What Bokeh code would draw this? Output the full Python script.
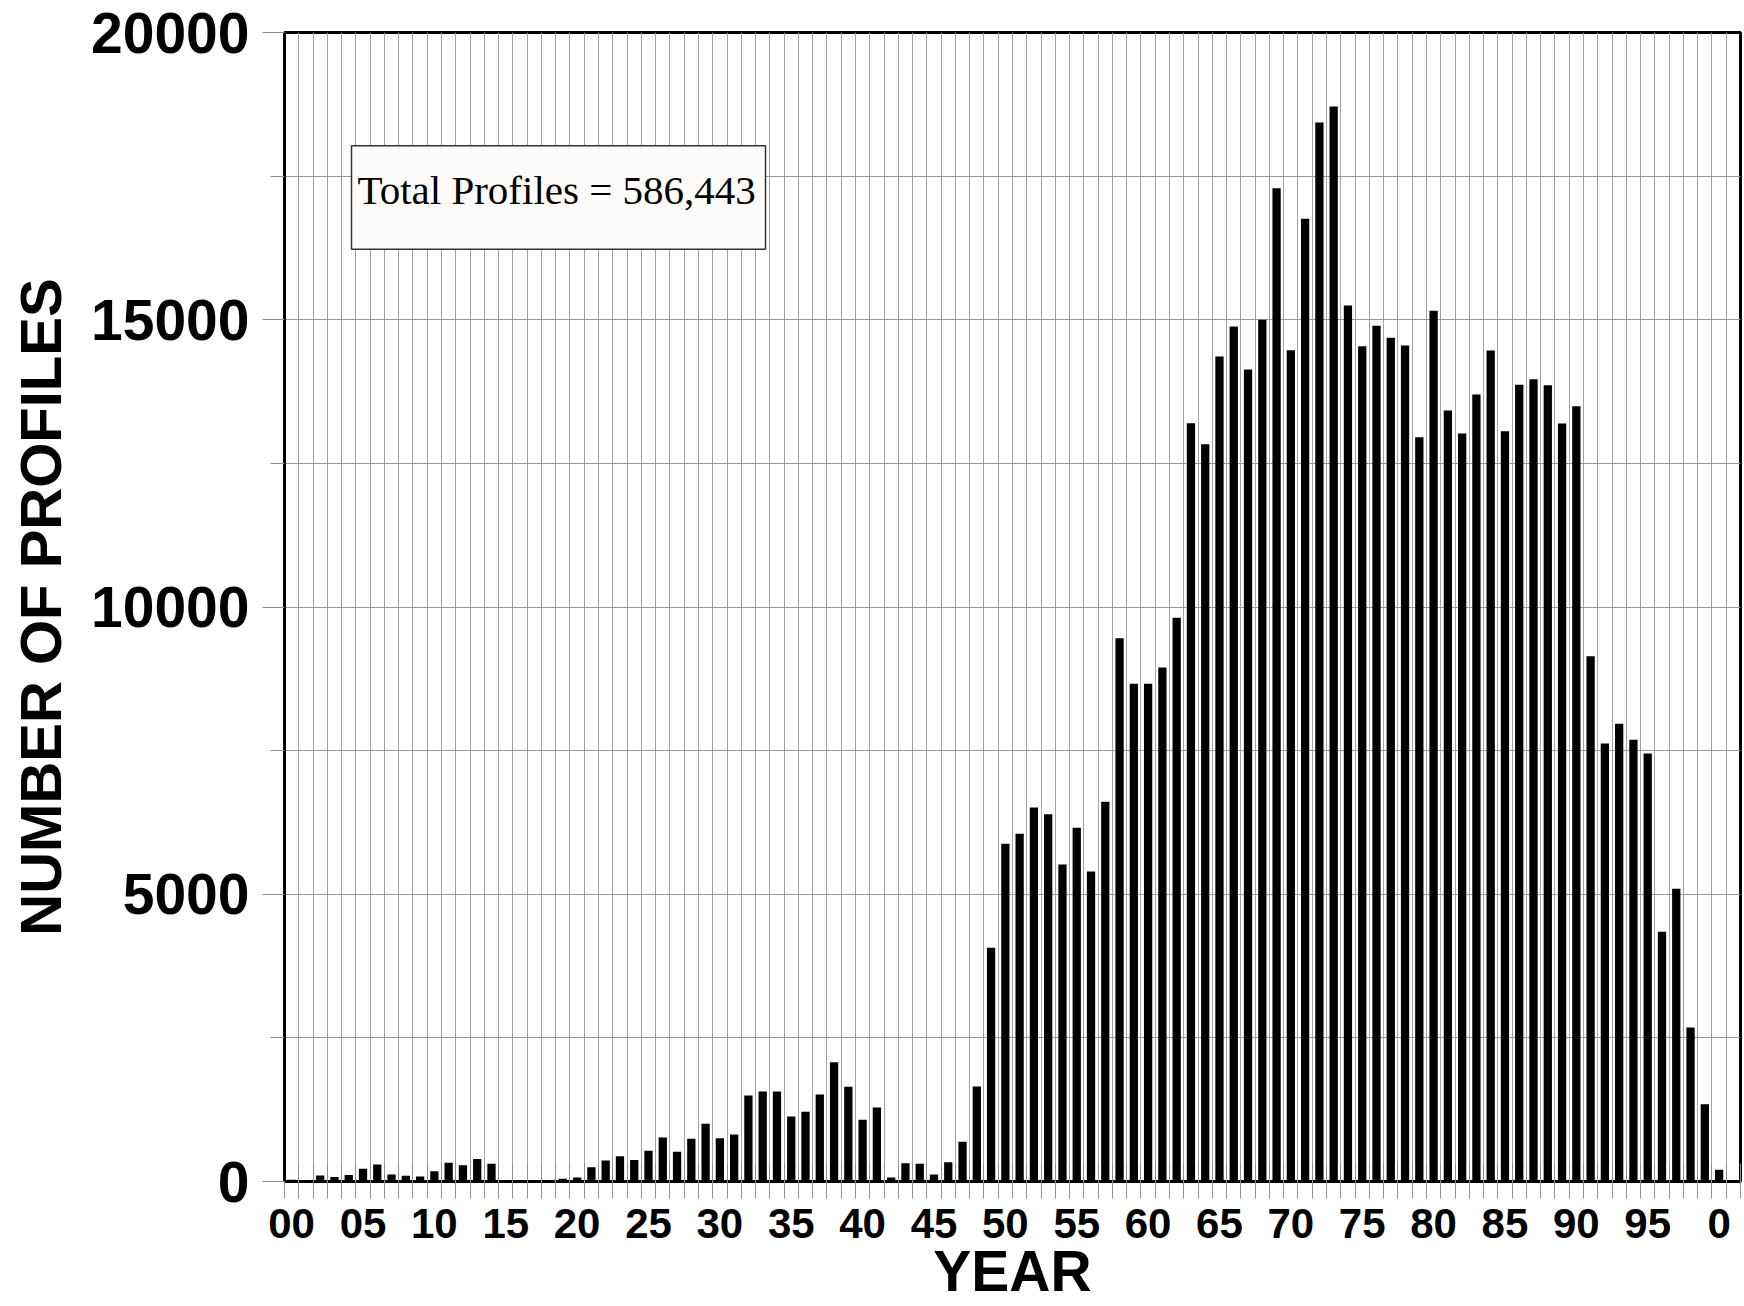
from bokeh.plotting import figure
from bokeh.models import Range1d, FixedTicker, BoxAnnotation, Label
from bokeh.embed import file_html
from bokeh.resources import INLINE

# ---------------- data ----------------
years = list(range(1900, 2001))
profiles = [
    30, 25, 105, 80, 115, 220, 295, 120, 100, 85,            # 1900-1909
    180, 325, 285, 390, 310, 10, 5, 5, 10, 50,               # 1910-1919
    70, 250, 365, 440, 375, 535, 765, 520, 745, 1005,        # 1920-1929
    755, 820, 1497, 1566, 1566, 1131, 1213, 1514, 2077, 1648,  # 1930-1939
    1073, 1288, 70, 319, 308, 122, 336, 691, 1654, 4068,     # 1940-1949
    5878, 6052, 6510, 6393, 5518, 6156, 5396, 6609, 9457, 8662,  # 1950-1959
    8662, 8947, 9811, 13199, 12833, 14360, 14882, 14134, 14998, 17290,  # 1960-1969
    14470, 16757, 18433, 18711, 15248, 14539, 14894, 14685, 14551, 12955,  # 1970-1979
    15155, 13420, 13020, 13698, 14464, 13060, 13867, 13965, 13860, 13194,  # 1980-1989
    13495, 9143, 7624, 7967, 7688, 7450, 4346, 5094, 2680, 1345,  # 1990-1999
    205,                                                     # 2000
]
xtick_years = list(range(1900, 2001, 5))
xtick_labels = ["00", "05", "10", "15", "20", "25", "30", "35", "40", "45",
                "50", "55", "60", "65", "70", "75", "80", "85", "90", "95", "0"]
ytick_values = [0, 5000, 10000, 15000, 20000]
ytick_labels = ["0", "5000", "10000", "15000", "20000"]
yminor_values = [2500, 7500, 12500, 17500]
total_text = "Total Profiles = 586,443"
x_title = "YEAR"
y_title = "NUMBER OF PROFILES"

# ---------------- figure ----------------
X0, X1 = 1899.5, 2001.5
p = figure(width=1744, height=1306, output_backend="svg", toolbar_location=None,
           x_range=Range1d(X0, X1), y_range=Range1d(0, 20000),
           min_border_left=284, min_border_right=4, min_border_top=32,
           min_border_bottom=125)
p.background_fill_color = "white"
p.border_fill_color = "white"
p.outline_line_color = "black"
p.outline_line_width = 3
p.outline_line_alpha = 1

half_years = [y - 0.5 for y in years] + [years[-1] + 0.5, years[-1] + 1.5]

# grid
p.xgrid.ticker = FixedTicker(ticks=half_years)
p.xgrid.grid_line_color = "#a3a3a3"
p.xgrid.grid_line_width = 1
p.ygrid.ticker = FixedTicker(ticks=sorted(ytick_values + yminor_values))
p.ygrid.grid_line_color = "#999999"
p.ygrid.grid_line_width = 1

# bars
p.vbar(x=years, top=profiles, width=0.58, fill_color="black", line_color=None)

# x axis
xa = p.xaxis[0]
xa.ticker = FixedTicker(ticks=xtick_years, minor_ticks=half_years)
xa.major_label_overrides = {y: s for y, s in zip(xtick_years, xtick_labels)}
xa.major_tick_out = 17
xa.major_tick_in = 0
xa.major_tick_line_color = None
xa.minor_tick_out = 17
xa.minor_tick_in = 18
xa.minor_tick_line_color = "#8f8f8f"
xa.minor_tick_line_width = 1
xa.axis_line_color = "black"
xa.axis_line_width = 3
xa.major_label_text_font = "Liberation Sans"
xa.major_label_text_font_style = "bold"
xa.major_label_text_font_size = "42px"
xa.major_label_text_color = "black"
xa.major_label_standoff = 10
xa.axis_label = x_title
xa.axis_label_text_font = "Liberation Sans"
xa.axis_label_text_font_style = "bold"
xa.axis_label_text_font_size = "57px"
xa.axis_label_text_color = "black"
xa.axis_label_standoff = -2

# y axis
ya = p.yaxis[0]
ya.ticker = FixedTicker(ticks=ytick_values, minor_ticks=yminor_values)
ya.major_label_overrides = {v: s for v, s in zip(ytick_values, ytick_labels)}
ya.major_tick_out = 22
ya.major_tick_in = 0
ya.major_tick_line_color = "#8f8f8f"
ya.minor_tick_out = 14
ya.minor_tick_in = 0
ya.minor_tick_line_color = "#8f8f8f"
ya.axis_line_color = "black"
ya.axis_line_width = 3
ya.major_label_text_font = "Liberation Sans"
ya.major_label_text_font_style = "bold"
ya.major_label_text_font_size = "57px"
ya.major_label_text_color = "black"
ya.major_label_standoff = 13
ya.axis_label = y_title
ya.axis_label_text_font = "Liberation Sans"
ya.axis_label_text_font_style = "bold"
ya.axis_label_text_font_size = "58px"
ya.axis_label_text_color = "black"
ya.axis_label_standoff = 15

# pixel scale helpers (for positioning the annotation box only)
PX_X = (X1 - X0) / 1456.0
PX_Y = 20000 / 1149.0

# total profiles box
box = BoxAnnotation(left=X0 + 67 * PX_X, right=X0 + 481 * PX_X,
                    bottom=20000 - 216.7 * PX_Y, top=20000 - 113.3 * PX_Y,
                    fill_color="#fcfbf9", fill_alpha=1.0,
                    line_color="#333333", line_width=1.5, line_alpha=1.0)
p.add_layout(box)
p.add_layout(Label(x=X0 + 73 * PX_X, y=20000 - 157.3 * PX_Y, text=total_text,
                   text_font="Liberation Serif", text_font_size="41px",
                   text_color="black", text_align="left",
                   text_baseline="alphabetic"))

open("out.html", "w").write(file_html(p, INLINE))
